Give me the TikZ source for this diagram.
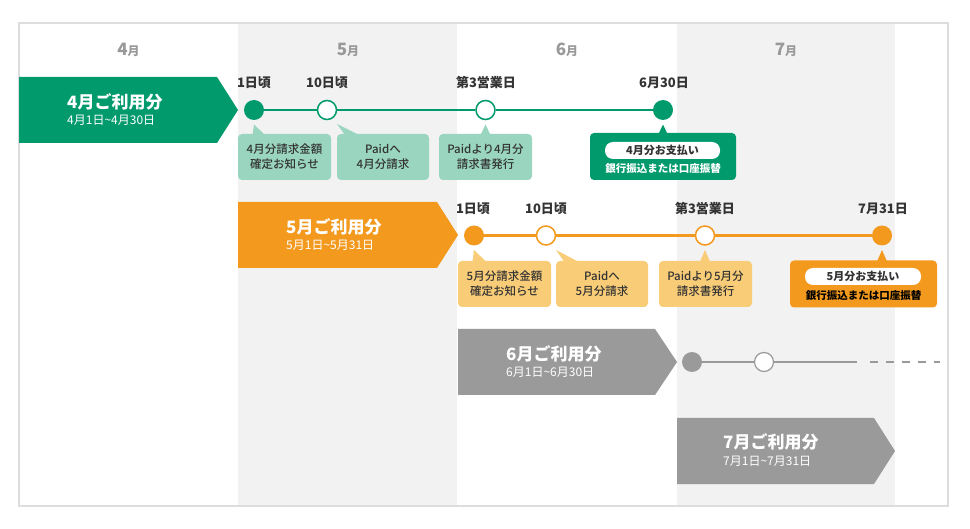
\documentclass[tikz,border=0pt]{standalone}
\usepackage{fontspec}
\setmainfont{Noto Sans CJK JP}
\newfontfamily\medium{Noto Sans CJK JP Medium}
\definecolor{grn}{HTML}{009A6C}
\definecolor{lgrn}{HTML}{99D5BF}
\definecolor{org}{HTML}{F39A1E}
\definecolor{lorg}{HTML}{F9CD78}
\definecolor{gry}{HTML}{9A9A9A}
\definecolor{band}{HTML}{F2F2F2}
\definecolor{framec}{HTML}{DDDDDD}
\definecolor{ink}{HTML}{333333}
\definecolor{monthc}{HTML}{999999}
\tikzset{
  month/.style={text=monthc, inner sep=0, font=\bfseries},
  lbl/.style={text=ink, inner sep=0, font=\bfseries\fontsize{13}{15}\selectfont},
  ttl/.style={text=white, inner sep=0, anchor=west, font=\bfseries\fontsize{17}{19}\selectfont},
  sub/.style={text=white, inner sep=0, anchor=west, font=\fontsize{12}{14}\selectfont},
  callout/.style={fill=#1, rounded corners=4pt, minimum height=46, align=center,
     text=ink, inner sep=0, font=\medium\fontsize{11.5}{15}\selectfont},
  paybox/.style={fill=#1, rounded corners=4pt, minimum width=146, minimum height=47, inner sep=0},
  pill/.style={fill=white, rounded corners=8pt, minimum width=115, minimum height=17, inner sep=0,
     text=ink, font=\bfseries\fontsize{11}{12}\selectfont},
  paytext/.style={inner sep=0, font=\bfseries\fontsize{10.5}{12}\selectfont},
  dotf/.style={circle, fill=#1, minimum size=20, inner sep=0},
  doto/.style={circle, fill=white, draw=#1, line width=1.5pt, minimum size=19, inner sep=0},
  tline/.style={draw=#1, line width=2.5pt},
}
\newcommand{\mhead}[1]{\fontsize{17}{17}\selectfont #1\fontsize{12}{12}\selectfont 月}
\begin{document}
\begin{tikzpicture}[x=1pt,y=-1pt]
\useasboundingbox (0,0) rectangle (970,529);
% background bands and frame
\fill[white] (19,23) rectangle (948,506);
\fill[band] (238,23) rectangle (457,506);
\fill[band] (677,23) rectangle (895,506);
\draw[framec, line width=1.5pt] (19,23) rectangle (948,506);

% month headers
\node[month] (m4) at (128.5,49.5) {\mhead{4}};
\node[month] (m5) at (348,49.5) {\mhead{5}};
\node[month] (m6) at (567,49.5) {\mhead{6}};
\node[month] (m7) at (786,49.5) {\mhead{7}};

% ===== Row 1 (April, green)
\fill[grn] (19,77) -- (217,77) -- (238,110) -- (217,143) -- (19,143) -- cycle;
\node[ttl] (t4) at (67,102) {4月ご利用分};
\node[sub] (s4) at (67,120) {4月1日\textasciitilde 4月30日};

\node[dotf=grn] (a1) at (254,110) {};
\node[doto=grn] (a2) at (327,110) {};
\node[doto=grn] (a3) at (485.5,110) {};
\node[dotf=grn] (a4) at (663,110) {};
\draw[tline=grn] (a1) -- (a2);
\draw[tline=grn] (a2) -- (a3);
\draw[tline=grn] (a3) -- (a4);

\node[lbl] (la1) at (254,83) {1日頃};
\node[lbl] (la2) at (327,83) {10日頃};
\node[lbl] (la3) at (486,83) {第3営業日};
\node[lbl] (la4) at (664,83) {6月30日};

\fill[lgrn] (254,124.5) -- (252.5,135) -- (265,135) -- cycle;
\fill[lgrn] (337,124) -- (345,135) -- (359,135) -- cycle;
\fill[lgrn] (485.5,124.5) -- (480.5,135) -- (490.5,135) -- cycle;
\fill[grn] (663,124.5) -- (658,135) -- (668,135) -- cycle;

\node[callout=lgrn, minimum width=93] (ca1) at (284.5,157) {4月分請求金額\\確定お知らせ};
\node[callout=lgrn, minimum width=92] (ca2) at (383,157) {Paidへ\\4月分請求};
\node[callout=lgrn, minimum width=93] (ca3) at (485.5,157) {Paidより4月分\\請求書発行};
\node[paybox=grn] (pa) at (663,156.5) {};
\node[pill] (pa1) at (662.5,150.5) {4月分お支払い};
\node[paytext, text=white] (pa2) at (663,168.5) {銀行振込または口座振替};

% ===== Row 2 (May, orange)
\fill[org] (238,202) -- (437,202) -- (458,235) -- (437,268) -- (238,268) -- cycle;
\node[ttl] (t5) at (286,227) {5月ご利用分};
\node[sub] (s5) at (286,245) {5月1日\textasciitilde 5月31日};

\node[dotf=org] (b1) at (474,235.5) {};
\node[doto=org] (b2) at (546,235.5) {};
\node[doto=org] (b3) at (705,235.5) {};
\node[dotf=org] (b4) at (882,235.5) {};
\draw[tline=org] (b1) -- (b2);
\draw[tline=org] (b2) -- (b3);
\draw[tline=org] (b3) -- (b4);

\node[lbl] (lb1) at (473,209) {1日頃};
\node[lbl] (lb2) at (546,209) {10日頃};
\node[lbl] (lb3) at (705,209) {第3営業日};
\node[lbl] (lb4) at (883,209) {7月31日};

\fill[lorg] (474,250) -- (472.5,261.5) -- (486,261.5) -- cycle;
\fill[lorg] (556,250) -- (564,261.5) -- (578,261.5) -- cycle;
\fill[lorg] (705,250) -- (700,261.5) -- (710,261.5) -- cycle;
\fill[org] (882,250) -- (877,261.5) -- (887,261.5) -- cycle;

\node[callout=lorg, minimum width=93] (cb1) at (504.5,284) {5月分請求金額\\確定お知らせ};
\node[callout=lorg, minimum width=92] (cb2) at (602,284) {Paidへ\\5月分請求};
\node[callout=lorg, minimum width=93] (cb3) at (705.5,284) {Paidより5月分\\請求書発行};
\node[paybox=org, minimum width=147] (pb) at (863.5,284) {};
\node[pill, minimum width=116] (pb1) at (863,276.5) {5月分お支払い};
\node[paytext, text=black] (pb2) at (863.5,296) {銀行振込または口座振替};

% ===== Row 3 (June, gray)
\fill[gry] (458,329) -- (655,329) -- (677,362) -- (655,395) -- (458,395) -- cycle;
\node[ttl] (t6) at (506,354) {6月ご利用分};
\node[sub] (s6) at (506,372) {6月1日\textasciitilde 6月30日};

\node[dotf=gry] (c1) at (692,362) {};
\node[doto=gry, line width=1.2pt] (c2) at (764,362) {};
\coordinate (c3) at (857,362);
\coordinate (c4) at (870,362);
\coordinate (c5) at (940,362);
\draw[gry, line width=2pt] (c1) -- (c2);
\draw[gry, line width=2pt] (c2) -- (c3);
\draw[gry, line width=2pt, dash pattern=on 8pt off 8pt] (c4) -- (c5);

% ===== Row 4 (July, gray)
\fill[gry] (677,418) -- (874,418) -- (895,451) -- (874,484) -- (677,484) -- cycle;
\node[ttl] (t7) at (723,442) {7月ご利用分};
\node[sub] (s7) at (723,461) {7月1日\textasciitilde 7月31日};
\end{tikzpicture}
\end{document}
